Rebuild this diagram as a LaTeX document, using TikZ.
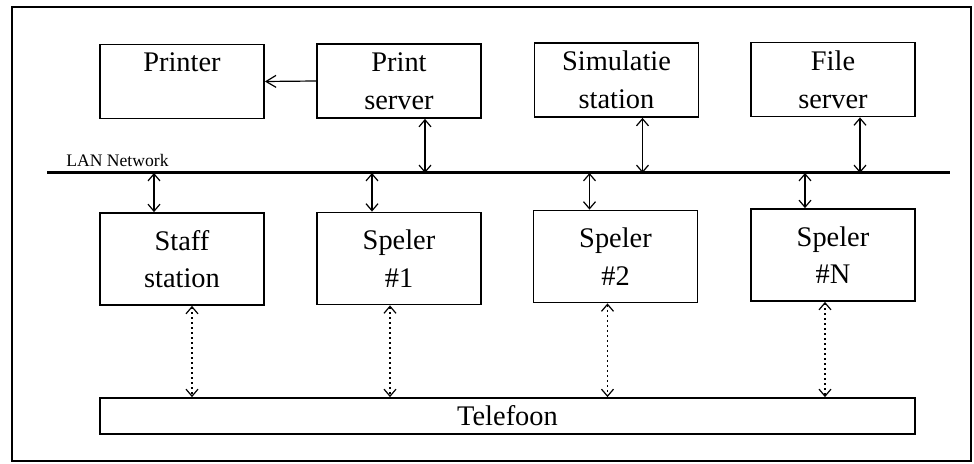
\documentclass[tikz,border=0pt]{standalone}
\usepackage{fontspec}
\setmainfont{Liberation Serif}
\usetikzlibrary{arrows.meta}

\begin{document}
\begin{tikzpicture}[x=0.5pt, y=-0.5pt,
    unit/.style={draw, line width=0.9pt, minimum width=82pt, minimum height=37pt,
      inner sep=0pt, align=center, font=\fontsize{14.2}{18.8}\selectfont},
    station/.style={unit, minimum height=46pt},
    link/.style={line width=0.6pt,
      {Straight Barb[length=3.5pt,width=6pt]}-{Straight Barb[length=3.5pt,width=6pt]}},
    phone/.style={link, dash pattern=on 0.9pt off 1.6pt}]
  \useasboundingbox (0,0) rectangle (974,464);
  \draw[line width=1pt] (12,7) rectangle (971,461);

  % bovenste rij
  \node[unit] (printer) at (182,81.5) {Printer\\\phantom{server}};
  \node[unit] (printsrv) at (399,81) {Print\\server};
  \node[unit] (sim) at (616.5,80) {Simulatie\\station};
  \node[unit] (filesrv) at (833,79.5) {File\\server};

  % netwerk
  \coordinate (lanW) at (47,173);
  \coordinate (lanE) at (950,173);
  \draw[line width=1.5pt] (lanW) -- (lanE);
  \node[anchor=base west, inner sep=0pt, font=\fontsize{8.8}{10}\selectfont] (lanlabel) at (66,167) {LAN Network};

  % onderste rij
  \node[station] (staff) at (182,259) {Staff\\station};
  \node[station] (sp1) at (399,258.5) {Speler\\\#1};
  \node[station] (sp2) at (615.5,256.5) {Speler\\\#2};
  \node[station] (spN) at (833,255) {Speler\\\#N};
  \node[unit, minimum width=407.5pt, minimum height=18pt] (tel) at (507.5,416) {Telefoon};

  \draw[line width=0.6pt, -{Straight Barb[length=5pt,width=6pt]}] (printsrv.west) -- (printer.east);

  \draw[link] ([xshift=13pt]printsrv.south) -- ([xshift=13pt]printsrv.south |- lanW);
  \draw[link] ([xshift=13pt]sim.south) -- ([xshift=13pt]sim.south |- lanW);
  \draw[link] ([xshift=13.5pt]filesrv.south) -- ([xshift=13.5pt]filesrv.south |- lanW);

  \draw[link] ([xshift=-14pt]staff.north) -- ([xshift=-14pt]staff.north |- lanW);
  \draw[link] ([xshift=-13.5pt]sp1.north) -- ([xshift=-13.5pt]sp1.north |- lanW);
  \draw[link] ([xshift=-13pt]sp2.north) -- ([xshift=-13pt]sp2.north |- lanW);
  \draw[link] ([xshift=-14pt]spN.north) -- ([xshift=-14pt]spN.north |- lanW);

  \draw[phone] ([xshift=5pt]staff.south) -- ([xshift=5pt]staff.south |- tel.north);
  \draw[phone] ([xshift=-4.5pt]sp1.south) -- ([xshift=-4.5pt]sp1.south |- tel.north);
  \draw[phone] ([xshift=-4pt]sp2.south) -- ([xshift=-4pt]sp2.south |- tel.north);
  \draw[phone] ([xshift=-4pt]spN.south) -- ([xshift=-4pt]spN.south |- tel.north);
\end{tikzpicture}
\end{document}
